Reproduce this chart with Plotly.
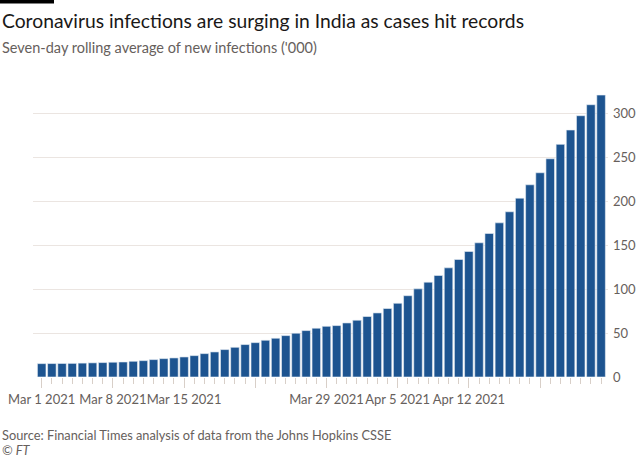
import datetime as dt
import plotly.graph_objects as go

# ---- data ----
start_date = "2021-03-01"
cases_000 = [15.2, 15.3, 15.4, 15.5, 15.8, 16.1, 16.4, 16.8, 17.1, 17.9,
             18.6, 19.8, 20.9, 21.7, 22.8, 24.3, 26.6, 28.5, 31.2, 33.8,
             36.9, 39.1, 41.8, 44.1, 47.1, 49.8, 52.8, 55.5, 57.7, 58.5,
             61.5, 64.6, 68.8, 72.9, 77.9, 83.9, 92.5, 100.3, 107.9, 115.5,
             124.2, 133.7, 142.8, 152.7, 163.3, 175.4, 188.0, 203.5, 218.7, 232.4,
             248.3, 264.7, 281.0, 297.3, 309.8, 320.8]
tick_dates = ["2021-03-01", "2021-03-08", "2021-03-15", "2021-03-22",
              "2021-03-29", "2021-04-05", "2021-04-12", "2021-04-19"]
tick_labels = ["Mar 1 2021", "Mar 8 2021", "Mar 15 2021", "",
               "Mar 29 2021", "Apr 5 2021", "Apr 12 2021", ""]
y_ticks = [0, 50, 100, 150, 200, 250, 300]

title = "Coronavirus infections are surging in India as cases hit records"
subtitle = "Seven-day rolling average of new infections ('000)"
source = "Source: Financial Times analysis of data from the Johns Hopkins CSSE"
credit = "© FT"

# ---- layout geometry ----
W, H = 640, 457
L, R, T, B = 33, 608, 80, 376.7
FONT = "Lato"

d0 = dt.datetime.fromisoformat(start_date)
dates = [d0 + dt.timedelta(days=i) for i in range(len(cases_000))]
x_lo = d0 - dt.timedelta(days=0.855)
x_hi = d0 + dt.timedelta(days=55.68)


def px(x):
    return (x - L) / (R - L)


def py(y):
    return (B - y) / (B - T)


fig = go.Figure()
fig.add_trace(go.Bar(
    x=dates, y=cases_000,
    marker=dict(color="#1d5490", line=dict(color="#e8eef5", width=0.6)),
    width=0.84 * 86400000,
    hoverinfo="x+y",
))

fig.update_layout(
    width=W, height=H,
    margin=dict(l=L, r=W - R, t=T, b=H - B, autoexpand=False),
    paper_bgcolor="white", plot_bgcolor="white",
    showlegend=False,
    font=dict(family=FONT, color="#66605c", size=13),
    xaxis=dict(
        type="date",
        range=[x_lo, x_hi],
        tickvals=tick_dates, ticktext=tick_labels,
        tickangle=0, automargin=False,
        ticks="outside", ticklen=10, tickcolor="#d8cfc8", tickwidth=1,
        tickfont=dict(size=13, color="#66605c"),
        showgrid=False, zeroline=False, showline=False,
        minor=dict(dtick=86400000, tick0="2021-03-01", ticks="outside",
                   ticklen=6, tickcolor="#d8cfc8", tickwidth=1, showgrid=False),
        fixedrange=True,
    ),
    yaxis=dict(
        side="right", automargin=False,
        range=[0, (B - T) / 0.878],
        tickvals=y_ticks,
        showgrid=True, gridcolor="#ebe5e1", gridwidth=1,
        zeroline=False, showline=False, ticks="",
        tickfont=dict(size=13, color="#66605c"),
        ticklabelstandoff=4,
        fixedrange=True,
    ),
    shapes=[dict(type="rect", xref="paper", yref="paper",
                 x0=px(0), x1=px(54), y0=py(3.5), y1=py(0),
                 fillcolor="black", line=dict(width=0))],
    annotations=[
        dict(text=title, xref="paper", yref="paper", x=px(0), y=py(21),
             xanchor="left", yanchor="middle", showarrow=False,
             font=dict(family=FONT, size=19.3, color="#1a1817")),
        dict(text=subtitle, xref="paper", yref="paper", x=px(0), y=py(48),
             xanchor="left", yanchor="middle", showarrow=False,
             font=dict(family=FONT, size=14.5, color="#66605c")),
        dict(text=source, xref="paper", yref="paper", x=px(0), y=py(435),
             xanchor="left", yanchor="middle", showarrow=False,
             font=dict(family=FONT, size=12.8, color="#66605c")),
        dict(text="<i>" + credit + "</i>", xref="paper", yref="paper", x=px(0), y=py(450),
             xanchor="left", yanchor="middle", showarrow=False,
             font=dict(family=FONT, size=12.8, color="#66605c")),
    ],
)

fig.write_html("out.html", config={"displayModeBar": False},
               post_script="document.body.style.margin='0';")
